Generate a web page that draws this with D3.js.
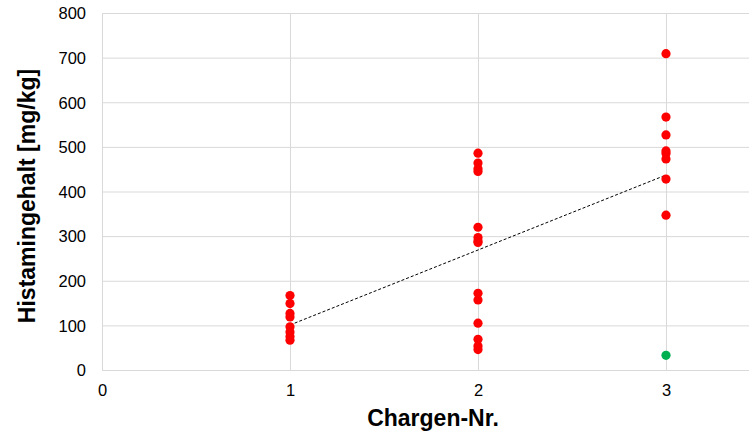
<!DOCTYPE html>
<html><head><meta charset="utf-8">
<script src="https://cdn.jsdelivr.net/npm/d3@7"></script>
<style>body{margin:0;background:#fff}svg{display:block}</style>
</head><body>
<svg id="c" width="749" height="434"></svg>
<script>
const batch1 = [168, 150, 128, 120, 98, 86, 76, 68];
const batch2 = [487, 465, 452, 446, 321, 298, 290, 287, 173, 158, 106, 70, 55, 47];
const batch3 = [710, 568, 528, 492, 486, 474, 429, 348];
const outlierX = [3];
const outlierY = [34];
const trendX = [1, 3];
const trendY = [102, 438];
const xTicks = [0, 1, 2, 3];
const yTicks = [0, 100, 200, 300, 400, 500, 600, 700, 800];

const svg = d3.select("#c");
const x = d3.scaleLinear().domain([0, 3.5]).range([102, 760]);
const y = d3.scaleLinear().domain([0, 800]).range([370.5, 13.5]);
const font = "'Liberation Sans', Arial, sans-serif";
const grid = "#d9d9d9";

// grid
svg.append("g").selectAll("line").data(yTicks).join("line")
  .attr("x1", x(0)).attr("x2", x(3.5)).attr("y1", d => y(d)).attr("y2", d => y(d))
  .attr("stroke", grid).attr("stroke-width", 1);
svg.append("g").selectAll("line").data(xTicks).join("line")
  .attr("x1", d => Math.round(x(d)) + 0.5).attr("x2", d => Math.round(x(d)) + 0.5)
  .attr("y1", y(0)).attr("y2", y(800))
  .attr("stroke", grid).attr("stroke-width", 1);

// axes labels via d3 axes
const yAxis = svg.append("g").attr("transform", `translate(${x(0)},0)`)
  .call(d3.axisLeft(y).tickValues(yTicks).tickSize(0).tickPadding(16));
yAxis.select(".domain").remove();
yAxis.selectAll("text").attr("font-family", font).attr("font-size", 16.5).attr("fill", "#000");

const xAxis = svg.append("g").attr("transform", `translate(0,${y(0)})`)
  .call(d3.axisBottom(x).tickValues(xTicks).tickFormat(d3.format("d")).tickSize(0).tickPadding(14));
xAxis.select(".domain").remove();
xAxis.selectAll("text").attr("font-family", font).attr("font-size", 16.5).attr("fill", "#000");

// trend line
svg.append("path")
  .datum(trendX.map((d, i) => [d, trendY[i]]))
  .attr("d", d3.line().x(d => x(d[0])).y(d => y(d[1])))
  .attr("fill", "none").attr("stroke", "#000").attr("stroke-width", 1)
  .attr("stroke-dasharray", "3,2");

// points
const pts = [].concat(
  batch1.map(v => [1, v]),
  batch2.map(v => [2, v]),
  batch3.map(v => [3, v])
);
svg.append("g").selectAll("circle").data(pts).join("circle")
  .attr("cx", d => x(d[0])).attr("cy", d => y(d[1])).attr("r", 4.6)
  .attr("fill", "#ff0000");
svg.append("g").selectAll("circle").data(outlierX.map((d, i) => [d, outlierY[i]])).join("circle")
  .attr("cx", d => x(d[0])).attr("cy", d => y(d[1])).attr("r", 4.6)
  .attr("fill", "#00b050");

// titles
svg.append("text").attr("x", 433).attr("y", 426).attr("text-anchor", "middle")
  .attr("font-family", font).attr("font-weight", "bold").attr("font-size", 23)
  .text("Chargen-Nr.");
svg.append("text").attr("transform", "translate(35,196) rotate(-90)").attr("text-anchor", "middle")
  .attr("font-family", font).attr("font-weight", "bold").attr("font-size", 23)
  .text("Histamingehalt [mg/kg]");
</script>
</body></html>
